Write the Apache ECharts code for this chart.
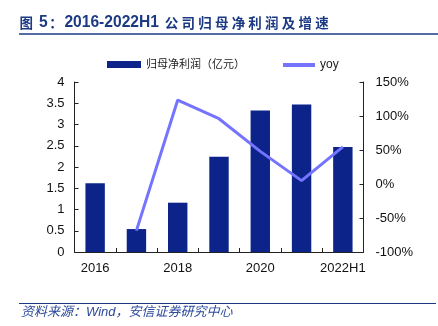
<!DOCTYPE html>
<html>
<head>
<meta charset="utf-8">
<script src="https://cdn.jsdelivr.net/npm/echarts@6/dist/echarts.min.js"></script>
<style>
  html, body { margin: 0; padding: 0; background: #fff; }
  #chart { width: 438px; height: 326px; }
</style>
</head>
<body>
<div id="chart"></div>
<script>
// Net profit attributable to parent (100m CNY) and YoY growth, 2016 - 2022H1
var categories = ['2016', '2017', '2018', '2019', '2020', '2021', '2022H1'];
var netProfit = [1.62, 0.54, 1.16, 2.24, 3.33, 3.47, 2.47];
var yoyGrowth = [null, -68.5, 123.5, 96, 48, 5, 54.5];
var profitName = '归母净利润（亿元）';
var yoyName = 'yoy';

var navy = '#0c2489';
var lilac = '#7474ff';
var titleBlue = '#1c3a84';
var latin = '"Liberation Sans", Arial, "Noto Sans CJK SC", sans-serif';

// Each CJK character of the heading sits in its own fixed-width cell (wide tracking)
function cjkCells(str) {
  return str.split('').map(function (ch) { return '{c|' + ch + '}'; }).join('');
}
var headingText = cjkCells('图') + '{n| 5}' + cjkCells('：') + '{n|2016-2022H1 }' +
  cjkCells('公司归母净利润及增速');

var chart = echarts.init(document.getElementById('chart'), null, { renderer: 'canvas' });

chart.setOption({
  animation: false,
  backgroundColor: '#ffffff',
  title: {
    text: headingText,
    left: 18,
    top: 13,
    padding: 0,
    textStyle: {
      color: titleBlue,
      fontWeight: 'bold',
      fontFamily: latin,
      rich: {
        c: {
          color: titleBlue,
          fontSize: 13.5,
          fontWeight: 'bold',
          fontFamily: '"Noto Sans CJK SC", sans-serif',
          width: 16.7,
          align: 'center',
          lineHeight: 20
        },
        n: {
          color: titleBlue,
          fontSize: 15.6,
          fontWeight: 'bold',
          fontFamily: latin,
          lineHeight: 20
        }
      }
    }
  },
  graphic: [
    {
      type: 'line',
      shape: { x1: 19, y1: 34, x2: 438, y2: 34 },
      style: { stroke: titleBlue, lineWidth: 1.5 }
    },
    {
      type: 'line',
      shape: { x1: 19, y1: 303.5, x2: 436, y2: 303.5 },
      style: { stroke: titleBlue, lineWidth: 1.2 }
    },
    {
      type: 'text',
      left: 21,
      top: 305.5,
      style: {
        text: '资料来源：Wind，安信证券研究中心',
        fill: '#2b4a9c',
        fontSize: 13,
        fontStyle: 'italic',
        fontFamily: latin
      }
    }
  ],
  legend: [
    {
      data: [{ name: profitName, icon: 'rect' }],
      left: 107,
      top: 59,
      padding: 0,
      itemWidth: 34,
      itemHeight: 7,
      textStyle: { fontSize: 11, color: '#222', fontFamily: latin }
    },
    {
      data: [{ name: yoyName, icon: 'rect' }],
      left: 283,
      top: 59,
      padding: 0,
      itemWidth: 32,
      itemHeight: 4,
      textStyle: { fontSize: 12, color: '#222', fontFamily: latin }
    }
  ],
  grid: {
    left: 74.5,
    right: 74.5,
    top: 82,
    bottom: 74,
    containLabel: false
  },
  xAxis: {
    type: 'category',
    data: categories,
    axisLine: { lineStyle: { color: '#222', width: 1 } },
    axisTick: { show: true, inside: true, length: 4, interval: 0, lineStyle: { color: '#222' } },
    axisLabel: {
      interval: 1,
      margin: 10,
      color: '#111',
      fontSize: 13,
      fontFamily: latin
    }
  },
  yAxis: [
    {
      type: 'value',
      min: 0,
      max: 4,
      interval: 0.5,
      axisLine: { show: true, lineStyle: { color: '#222', width: 1 } },
      axisTick: { show: true, inside: true, length: 4, lineStyle: { color: '#222' } },
      splitLine: { show: false },
      axisLabel: {
        margin: 10,
        color: '#111',
        fontSize: 13,
        fontFamily: latin
      }
    },
    {
      type: 'value',
      min: -100,
      max: 150,
      interval: 50,
      position: 'right',
      axisLine: { show: true, lineStyle: { color: '#222', width: 1 } },
      axisTick: { show: true, inside: true, length: 4, lineStyle: { color: '#222' } },
      splitLine: { show: false },
      axisLabel: {
        margin: 12,
        formatter: '{value}%',
        color: '#111',
        fontSize: 13,
        fontFamily: latin
      }
    }
  ],
  series: [
    {
      name: profitName,
      type: 'bar',
      data: netProfit,
      yAxisIndex: 0,
      barWidth: '47%',
      itemStyle: { color: navy }
    },
    {
      name: yoyName,
      type: 'line',
      data: yoyGrowth,
      yAxisIndex: 1,
      showSymbol: false,
      symbol: 'none',
      connectNulls: false,
      lineStyle: { color: lilac, width: 3 },
      itemStyle: { color: lilac }
    }
  ]
});
</script>
</body>
</html>
